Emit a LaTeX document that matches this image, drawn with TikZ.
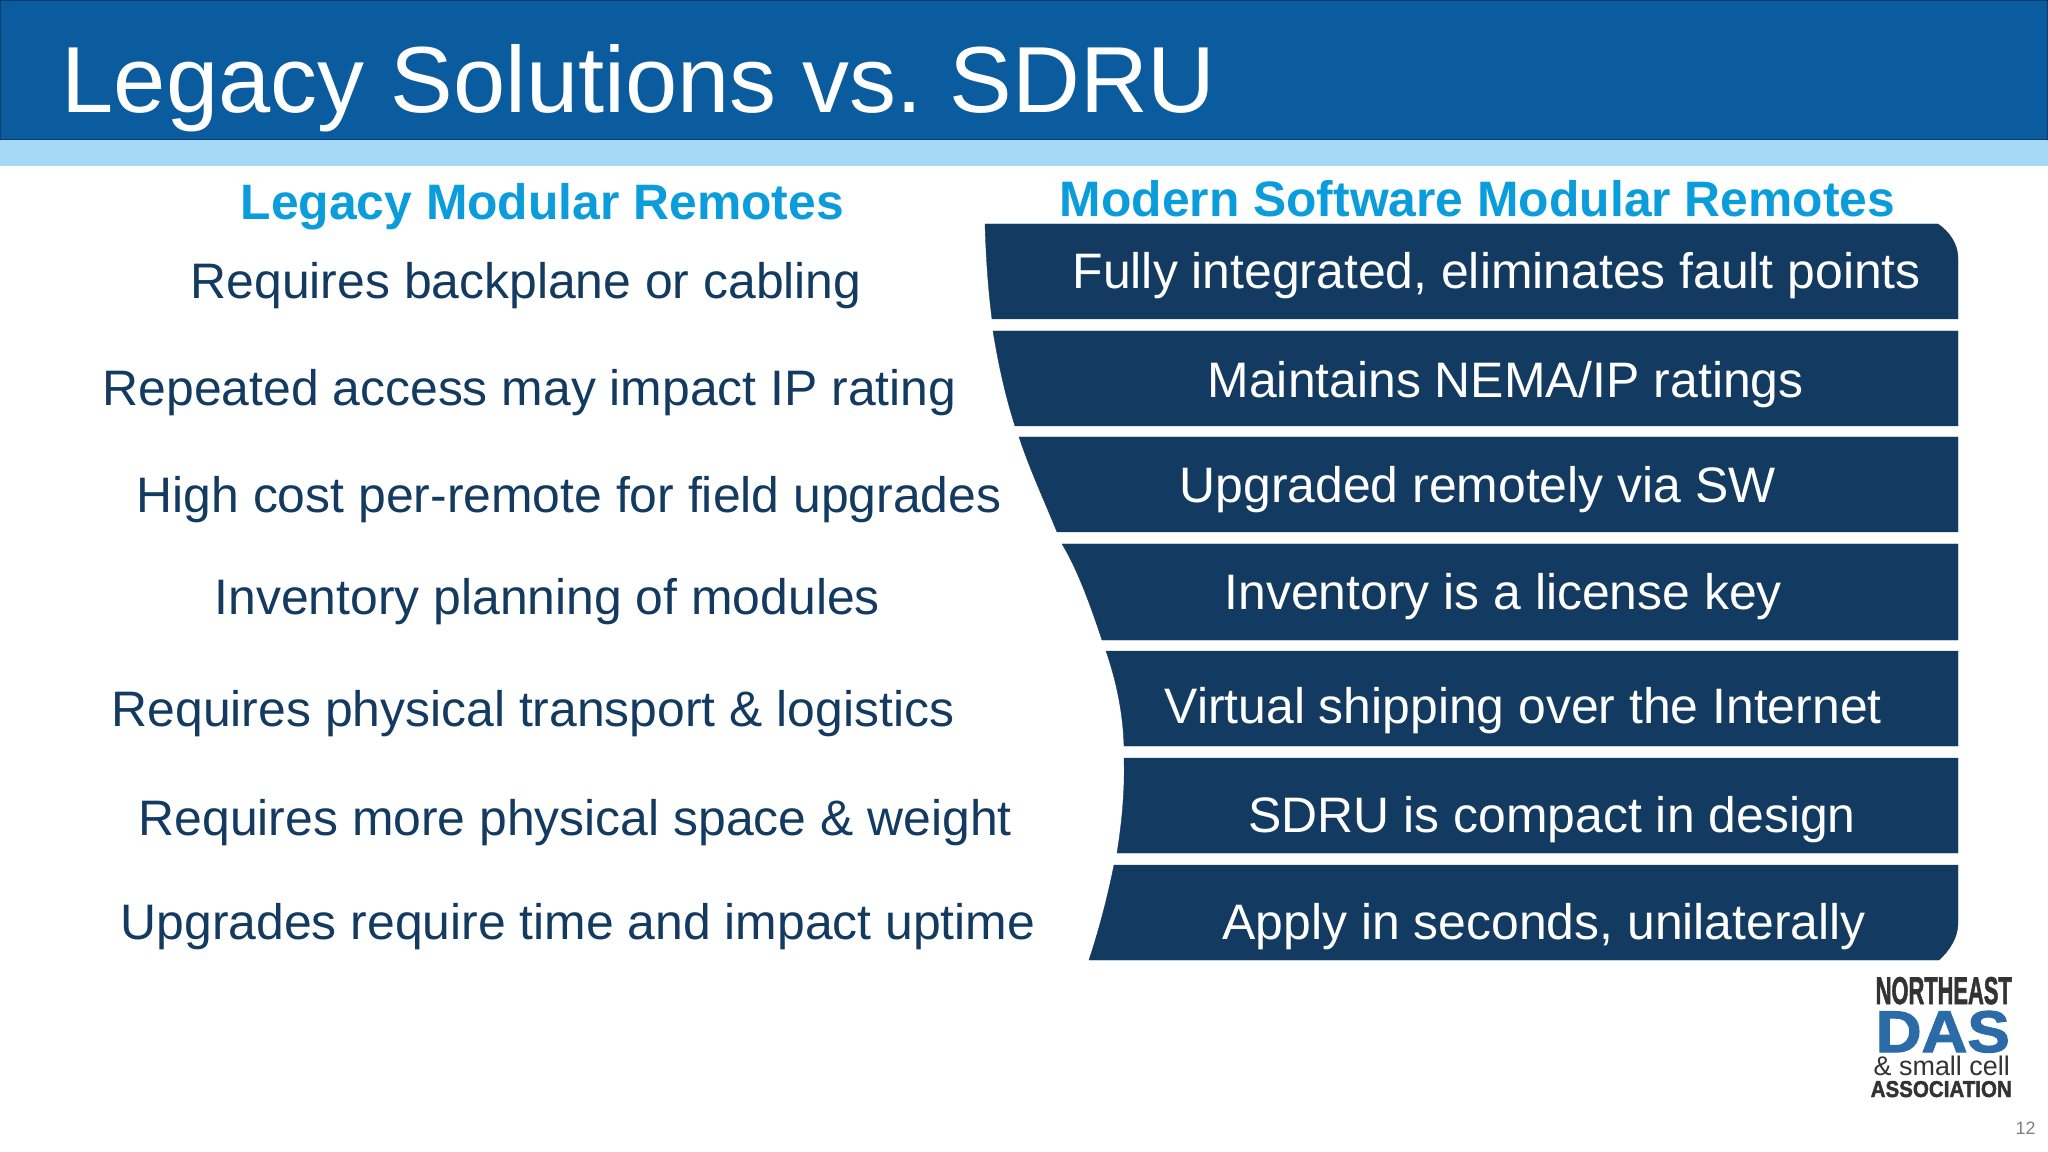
\documentclass[tikz,border=0pt]{standalone}
\usepackage{xcolor}
\usepackage{fontspec}
\setmainfont{Liberation Sans}
\newfontfamily\logofont{Liberation Sans}[BoldFeatures={FakeBold=2}]
\definecolor{headblue}{HTML}{0B5C9E}
\definecolor{headline}{HTML}{0D3B6B}
\definecolor{stripblue}{HTML}{A5D8F5}
\definecolor{subblue}{HTML}{0B9DDB}
\definecolor{navy}{HTML}{133A60}
\definecolor{logogrey}{HTML}{333333}
\definecolor{logoblue}{HTML}{2B6CA8}
\tikzset{
    band/.style = {color = navy, fill = navy, line width = 0.1pt},
    lefttext/.style = {anchor = base west, inner sep = 0pt, text = navy, font = \fontsize{14.18}{16}\selectfont},
    righttext/.style = {lefttext, text = white},
    subhead/.style = {anchor = base west, inner sep = 0pt, text = subblue, font = \fontsize{14.16}{16}\selectfont\bfseries},
    logotext/.style = {anchor = base west, inner sep = 0pt}
}

\begin{document}
\begin{tikzpicture}[x = 0.01cm, y = -0.01cm]
        \useasboundingbox (0, 0) rectangle (2048, 1152);
        \fill[white] (0, 0) rectangle (2048, 1152);

        \filldraw [color = headline, fill = headblue, line width = 0.6pt] (0, 0) rectangle (2048, 140);
        \fill[stripblue] (0, 140.5) rectangle (2048, 166);
        \node[anchor = base west, inner sep = 0pt, text = white, font = \fontsize{26.7}{30}\selectfont] (title) at (61, 113) {Legacy Solutions vs.\kern-2.2pt{} SDRU};

        \node[subhead] (legacyhead) at (240, 220) {Legacy Modular Remotes};
        \node[subhead] (modernhead) at (1059, 217) {Modern Software Modular Remotes};

        \filldraw [band] (985, 224) -- (1938, 224) .. controls (1950, 232) and (1958, 245) .. (1958, 258)
            -- (1958, 319) -- (992, 319) .. controls (988, 288) and (986, 256) .. (985, 224) -- cycle;
        \filldraw [band] (993, 331) -- (1958, 331) -- (1958, 426) -- (1015, 426) .. controls (1005, 395) and (998, 362) .. (993, 331) -- cycle;
        \filldraw [band] (1019, 437) -- (1958, 437) -- (1958, 532) -- (1057, 532) .. controls (1044, 500) and (1030, 470) .. (1019, 437) -- cycle;
        \filldraw [band] (1062, 544) -- (1958, 544) -- (1958, 640) -- (1102, 640) .. controls (1092, 610) and (1078, 570) .. (1062, 544) -- cycle;
        \filldraw [band] (1106, 651) -- (1958, 651) -- (1958, 746) -- (1124, 746) .. controls (1123, 712) and (1116, 680) .. (1106, 651) -- cycle;
        \filldraw [band] (1124, 758) -- (1958, 758) -- (1958, 853) -- (1117, 853) .. controls (1122, 822) and (1125, 790) .. (1124, 758) -- cycle;
        \filldraw [band] (1114, 865) -- (1958, 865) -- (1958, 923) .. controls (1958, 937) and (1950, 950) .. (1939, 960)
            -- (1089, 960) .. controls (1099, 930) and (1108, 895) .. (1114, 865) -- cycle;

        \node[lefttext] (lefta) at (190, 299) {Requires backplane or cabling};
        \node[lefttext] (leftb) at (102, 406) {Repeated access may impact IP rating};
        \node[lefttext] (leftc) at (136, 513) {High cost per-remote for field upgrades};
        \node[lefttext] (leftd) at (214, 614) {Inventory planning of modules};
        \node[lefttext] (lefte) at (111, 726) {Requires physical transport \& logistics};
        \node[lefttext] (leftf) at (138, 835) {Requires more physical space \& weight};
        \node[lefttext] (leftg) at (120, 939) {Upgrades require time and impact uptime};

        \node[righttext] (righta) at (1072, 289) {Fully integrated, eliminates fault points};
        \node[righttext] (rightb) at (1207, 398) {Maintains NEMA/IP ratings};
        \node[righttext] (rightc) at (1179, 503) {Upgraded remotely via SW};
        \node[righttext] (rightd) at (1224, 610) {Inventory is a license key};
        \node[righttext] (righte) at (1164, 723) {Virtual shipping over the Internet};
        \node[righttext] (rightf) at (1248, 832) {SDRU is compact in design};
        \node[righttext] (rightg) at (1222, 939) {Apply in seconds, unilaterally};

        \node[logotext, text = logogrey] (logoa) at (1875, 1004) {\resizebox{1.36cm}{0.27cm}{\logofont\bfseries NORTHEAST}};
        \node[logotext, text = logoblue] (logob) at (1875, 1052) {\resizebox{1.34cm}{0.41cm}{\logofont\bfseries DAS}};
        \node[logotext, text = logogrey] (logoc) at (1873, 1075) {\resizebox{1.36cm}{!}{\& small cell}};
        \node[logotext, text = logogrey] (logod) at (1870, 1097) {\resizebox{1.41cm}{0.16cm}{\logofont\bfseries ASSOCIATION}};
        \node[anchor = base west, inner sep = 0pt, text = gray, font = \fontsize{5.1}{6}\selectfont] (pagenum) at (2015, 1134) {12};
        \end{tikzpicture}
\end{document}
